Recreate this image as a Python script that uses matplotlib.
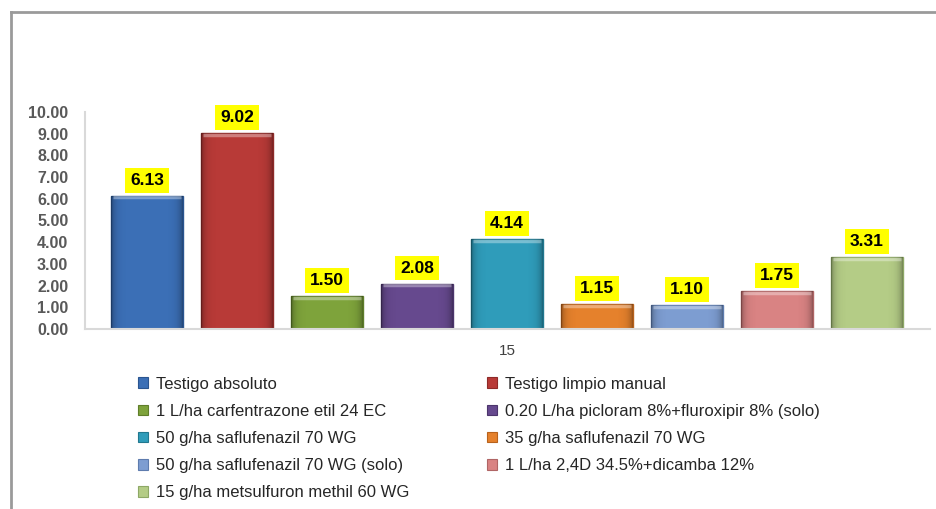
import matplotlib
matplotlib.use("Agg")
import matplotlib.pyplot as plt
from matplotlib.patches import Patch
from matplotlib.lines import Line2D
import numpy as np

# Treatments and values (day 15)
treatments = [
    "Testigo absoluto",
    "Testigo limpio manual",
    "1 L/ha carfentrazone etil 24 EC",
    "0.20 L/ha picloram 8%+fluroxipir 8% (solo)",
    "50 g/ha saflufenazil 70 WG",
    "35 g/ha saflufenazil 70 WG",
    "50 g/ha saflufenazil 70 WG (solo)",
    "1 L/ha 2,4D 34.5%+dicamba 12%",
    "15 g/ha metsulfuron methil 60 WG",
]
values = [6.13, 9.02, 1.50, 2.08, 4.14, 1.15, 1.10, 1.75, 3.31]
colors = ["#3b6fb6", "#b83a37", "#7ea33b", "#66498e", "#2f9cba",
          "#e5812c", "#7d9dd1", "#d98383", "#b4cc86"]
edge_colors = ["#2a5590", "#8e2a28", "#5f7e2a", "#4c356c", "#21788f",
               "#b8621c", "#5e7cae", "#b06565", "#8ea866"]
group_label = "15"
yticks = np.arange(0, 10.01, 1.0)

plt.rcParams["font.family"] = ["Liberation Sans", "DejaVu Sans"]

fig = plt.figure(figsize=(9.37, 5.09), dpi=100)
ax = fig.add_axes([0.0907, 0.3536, 0.9018, 0.4264])

x = np.arange(len(values))
bars = ax.bar(x, values, width=0.8, color=colors, edgecolor=edge_colors,
              linewidth=1.0, zorder=2)

# soft bevel shading: black overlay whose opacity grows towards the bar edges
ramp = np.abs(np.linspace(-1, 1, 64)) ** 8
overlay = np.zeros((1, 64, 4))
overlay[0, :, 3] = 0.30 * ramp
for b in bars:
    x0, w, h = b.get_x(), b.get_width(), b.get_height()
    im = ax.imshow(overlay, extent=[x0, x0 + w, 0, h], aspect="auto",
                   zorder=2.5, interpolation="bilinear")
    im.set_clip_path(b)

# light highlight along the top of each bar
for xi, v in zip(x, values):
    ax.plot([xi - 0.38, xi + 0.38], [v - 0.07, v - 0.07], color="white",
            alpha=0.35, linewidth=2.5, solid_capstyle="butt", zorder=3)

for xi, v in zip(x, values):
    ax.annotate(f"{v:.2f}", (xi, v), xytext=(0, 6), textcoords="offset points",
                ha="center", va="bottom", fontsize=12.5, fontweight="bold",
                color="black",
                bbox=dict(boxstyle="square,pad=0.28", fc="#ffff00", ec="none"))

ax.set_ylim(0, 10)
ax.set_xlim(-0.69, 8.7)
ax.set_yticks(yticks)
ax.set_yticklabels([f"{t:.2f}" for t in yticks], fontsize=11.5,
                   fontweight="bold", color="#595959")
ax.set_xticks([(len(values) - 1) / 2])
ax.set_xticklabels([group_label], fontsize=11, color="#404040")
ax.tick_params(axis="y", length=0, pad=12)
ax.tick_params(axis="x", length=0, pad=11)
for s in ["top", "right"]:
    ax.spines[s].set_visible(False)
ax.spines["left"].set_color("#d9d9d9")
ax.spines["bottom"].set_color("#d9d9d9")
ax.spines["left"].set_linewidth(1.5)
ax.spines["bottom"].set_linewidth(1.5)

# legend laid out row by row in two columns
handles = [Patch(facecolor=c, edgecolor=e, linewidth=0.8)
           for c, e in zip(colors, edge_colors)]
order = [0, 2, 4, 6, 8, 1, 3, 5, 7]
leg = fig.legend([handles[i] for i in order], [treatments[i] for i in order],
                 ncol=2, loc="upper left", bbox_to_anchor=(0.1473, 0.26),
                 frameon=False, fontsize=12, handlelength=0.6,
                 handleheight=0.6, handletextpad=0.45, labelspacing=0.73,
                 columnspacing=4.7, borderpad=0, borderaxespad=0)
for t in leg.get_texts():
    t.set_color("#262626")

# outer frame (top and left edges)
fig.add_artist(Line2D([0.0117, 1.0], [0.977, 0.977], transform=fig.transFigure,
                      color="#9a9a9a", linewidth=2))
fig.add_artist(Line2D([0.0117, 0.0117], [0.0, 0.977], transform=fig.transFigure,
                      color="#9a9a9a", linewidth=2))

fig.savefig("out.png", dpi=100, facecolor="white")
